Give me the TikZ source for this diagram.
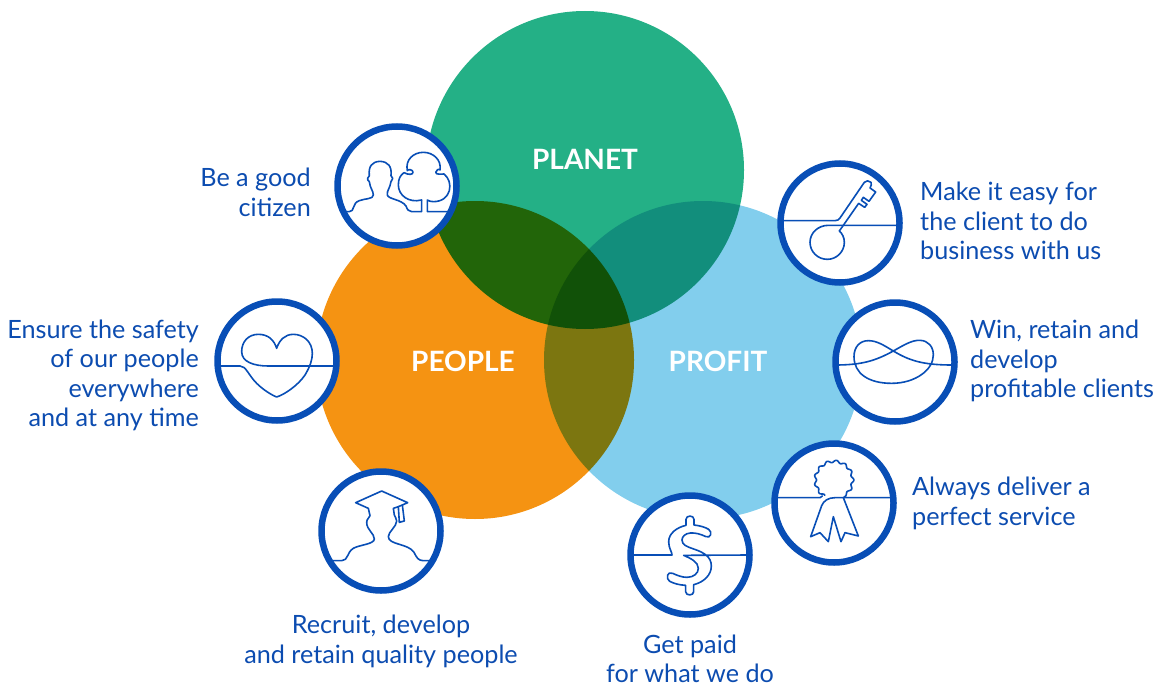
\documentclass[tikz,border=0pt]{standalone}
\usepackage{fontspec}
\setmainfont{Lato}
\definecolor{ringblue}{RGB}{8, 78, 182}
\definecolor{textblue}{RGB}{12, 76, 176}
\definecolor{planetgreen}{RGB}{36, 176, 134}
\definecolor{peopleorange}{RGB}{245, 147, 18}
\definecolor{profitblue}{RGB}{130, 206, 237}
\tikzset{
  iconring/.style={circle, draw=ringblue, fill=white, line width=6.5pt, minimum size=119pt, inner sep=0pt},
  iconline/.style={draw=ringblue, line width=1.6pt, line join=round, line cap=round},
  setlabel/.style={text=white, font=\fontsize{28}{30}\selectfont\bfseries},
  goallabel/.style={text=textblue, inner sep=0pt, font=\fontsize{25.2}{29.5}\selectfont}
}
\begin{document}
\begin{tikzpicture}[x=1pt, y=-1pt]
\useasboundingbox (0,0) rectangle (1169,687);

% Three sets
\begin{scope}[blend group=multiply]
\fill[planetgreen] (585,170) circle (159);
\fill[peopleorange] (475,360) circle (159);
\fill[profitblue] (703,360) circle (159);
\end{scope}
\node[setlabel] (planet) at (585,159) {PLANET};
\node[setlabel] (people) at (463,361) {PEOPLE};
\node[setlabel] (profit) at (718,361) {PROFIT};

% Rings
\node[iconring] (citizenring) at (397,186) {};
\node[iconring] (keyring) at (840,223) {};
\node[iconring] (knotring) at (895,362) {};
\node[iconring] (ribbonring) at (834,503) {};
\node[iconring] (dollarring) at (690,555) {};
\node[iconring] (gradring) at (381,531) {};
\node[iconring] (heartring) at (277,361) {};

% Person and tree
\begin{scope}[shift={(330,120)}, scale=1/3]
\draw[iconline] (42,275) -- (58,275) .. controls (75,275) and (65,250) .. (88,242) .. controls (105,235) and (130,238) .. (130,225) .. controls (130,212) and (120,205) .. (118,185) .. controls (110,180) and (112,170) .. (118,167) .. controls (115,140) and (125,125) .. (150,124) .. controls (175,125) and (186,140) .. (183,167) .. controls (190,170) and (190,180) .. (183,185) .. controls (180,205) and (170,212) .. (172,225) .. controls (175,238) and (215,238) .. (228,258) .. controls (232,268) and (235,275) .. (245,275) -- (275,275) -- (275,240);
\draw[iconline] (275,240) .. controls (235,250) and (205,225) .. (205,195) .. controls (205,175) and (212,165) .. (222,158) .. controls (235,165) and (250,165) .. (249,156) .. controls (248,148) and (233,147) .. (232,152) .. controls (225,120) and (250,97) .. (280,97) .. controls (310,97) and (335,120) .. (330,150) .. controls (328,145) and (317,150) .. (317,157) .. controls (318,165) and (335,162) .. (342,162) .. controls (372,185) and (365,245) .. (310,245) .. controls (302,245) and (297,243) .. (292,240) -- (292,275) -- (358,275);
\end{scope}

% Key
\begin{scope}[shift={(770,155)}, scale=1/3]
\draw[iconline] (32,197) -- (195,197) .. controls (203,197) and (206,194) .. (210,189) -- (283,82) .. controls (287,76) and (298,76) .. (303,82) .. controls (306,88) and (303,92) .. (300,99) -- (317,111) -- (297,139) -- (280,127) -- (274,136) -- (291,148) -- (284,157) -- (266,145) -- (208,228);
\draw[iconline] (382,211) -- (175,211) .. controls (145,211) and (120,233) .. (120,262) .. controls (120,290) and (143,313) .. (172,313) .. controls (200,313) and (223,290) .. (223,262) .. controls (223,248) and (217,236) .. (208,228);
\end{scope}

% Knot
\begin{scope}[shift={(825,295)}, scale=1/3]
\draw[iconline] (30,210) .. controls (110,210) and (150,198) .. (205,168) .. controls (240,148) and (262,135) .. (285,136) .. controls (310,137) and (325,155) .. (325,180) .. controls (325,225) and (270,265) .. (200,265) .. controls (130,265) and (87,235) .. (87,185) .. controls (87,155) and (105,137) .. (130,137) .. controls (155,137) and (175,150) .. (205,168) .. controls (250,195) and (290,210) .. (380,210);
\end{scope}

% Ribbon
\begin{scope}[shift={(765,435)}, scale=1/3]
\draw[iconline] (32,188) -- (165,188) -- (172,183) plot[domain=121:416, samples=240, smooth] ({207+(56+3.5*cos(13*\x))*cos(\x)}, {135+(56+3.5*cos(13*\x))*sin(\x)}) -- (235,188) -- (280,303) -- (240,293) -- (228,320) -- (205,245) -- (190,320) -- (165,293) -- (137,305) -- (170,212) .. controls (176,197) and (190,188) .. (210,188) -- (382,188);
\end{scope}

% Dollar
\begin{scope}[shift={(622,490)}, scale=1/3]
\draw[iconline] (28,195) -- (150,195) .. controls (150,185) and (140,175) .. (140,155) .. controls (140,130) and (165,112) .. (192,106) -- (192,88) .. controls (192,75) and (216,75) .. (216,88) -- (216,105) .. controls (235,107) and (250,112) .. (260,118) .. controls (272,126) and (266,146) .. (252,140) .. controls (235,132) and (220,128) .. (205,129) .. controls (190,130) and (180,140) .. (180,150) .. controls (180,165) and (195,170) .. (215,177) .. controls (245,187) and (268,200) .. (268,228) .. controls (268,255) and (245,277) .. (215,284) -- (215,305) .. controls (215,318) and (191,318) .. (191,305) -- (191,286) .. controls (170,285) and (155,280) .. (143,274) .. controls (130,266) and (136,242) .. (152,250) .. controls (165,256) and (180,262) .. (195,262) .. controls (215,262) and (229,250) .. (229,235) .. controls (229,215) and (205,205) .. (185,196) -- (382,195);
\end{scope}

% Graduate
\begin{scope}[shift={(315,465)}, scale=1/3]
\draw[iconline] (47,287) -- (80,287) .. controls (100,287) and (95,262) .. (115,250) .. controls (130,240) and (178,238) .. (178,222) .. controls (178,205) and (155,195) .. (155,172) .. controls (155,160) and (165,158) .. (165,152) -- (160,130) -- (122,113) -- (200,78) -- (278,113) -- (262,120) -- (268,168) -- (253,172) -- (250,125) -- (235,130) -- (238,150) .. controls (240,158) and (245,160) .. (245,168) .. controls (245,185) and (220,200) .. (220,215) .. controls (220,240) and (280,235) .. (297,262) .. controls (305,278) and (310,287) .. (325,287) -- (352,287);
\draw[iconline] (250,125) -- (262,120);
\end{scope}

% Heart
\begin{scope}[shift={(210,295)}, scale=1/3]
\draw[iconline] (25,213) -- (90,213) .. controls (108,213) and (115,240) .. (140,265) .. controls (160,285) and (185,300) .. (200,306) .. controls (225,298) and (265,270) .. (285,240) .. controls (300,215) and (307,195) .. (307,175) .. controls (307,140) and (280,118) .. (250,118) .. controls (225,118) and (208,135) .. (200,160) .. controls (192,135) and (175,118) .. (145,118) .. controls (115,118) and (95,140) .. (95,170) .. controls (95,200) and (130,213) .. (175,213) -- (380,213);
\end{scope}

% Goals
\node[goallabel, align=right, anchor=east] (citizen) at (311,192.5) {Be a good\\citizen};
\node[goallabel, align=right, anchor=east] (safety) at (199,375.5) {Ensure the safety\\of our people\hspace{7pt}\\everywhere\\and at any time};
\node[goallabel, align=center] (quality) at (381,641.5) {Recruit, develop\\and retain quality people};
\node[goallabel, align=center] (paid) at (690,659) {Get paid\\for what we do};
\node[goallabel, align=left, anchor=west] (service) at (912,503.5) {Always deliver a\\perfect service};
\node[goallabel, align=left, anchor=west] (clients) at (970,361) {Win, retain and\\develop\\profitable clients};
\node[goallabel, align=left, anchor=west] (easy) at (920,221) {Make it easy for\\the client to do\\business with us};
\end{tikzpicture}
\end{document}
